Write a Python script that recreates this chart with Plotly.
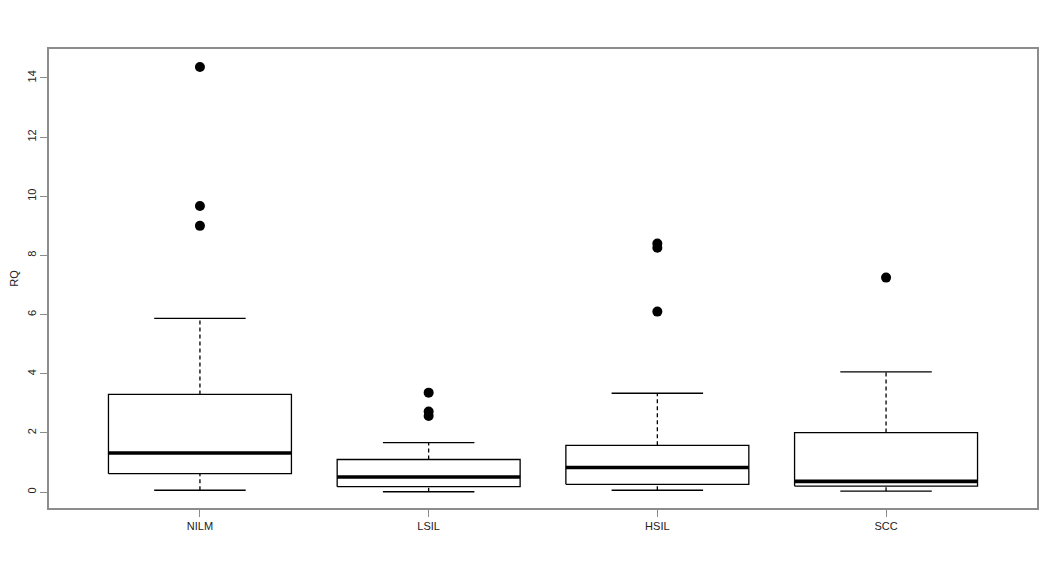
import plotly.graph_objects as go

# Box plot statistics (RQ per cytology group)
groups = ["NILM", "LSIL", "HSIL", "SCC"]
lower_whisker = [0.06, 0.01, 0.06, 0.03]
q1 = [0.62, 0.18, 0.26, 0.20]
median = [1.32, 0.51, 0.83, 0.36]
q3 = [3.30, 1.10, 1.58, 2.01]
upper_whisker = [5.87, 1.67, 3.34, 4.06]
outliers = [[14.37, 9.67, 9.00], [3.36, 2.72, 2.57], [8.40, 8.26, 6.10], [7.25]]

positions = [1, 2, 3, 4]
half_box = 0.4  # box width 0.8, like R's boxplot
half_cap = 0.2  # staple is half the box width

fig = go.Figure()


def add_line(xs, ys, width=1.3, dash="solid"):
    fig.add_trace(
        go.Scatter(
            x=xs, y=ys, mode="lines",
            line=dict(color="black", width=width, dash=dash),
            hoverinfo="skip", showlegend=False,
        )
    )


for i, x in enumerate(positions):
    # whiskers (dashed) and staples
    add_line([x, x], [q3[i], upper_whisker[i]], dash="4px,3px")
    add_line([x, x], [lower_whisker[i], q1[i]], dash="4px,3px")
    add_line([x - half_cap, x + half_cap], [upper_whisker[i]] * 2)
    add_line([x - half_cap, x + half_cap], [lower_whisker[i]] * 2)
    # the box itself
    add_line(
        [x - half_box, x + half_box, x + half_box, x - half_box, x - half_box],
        [q1[i], q1[i], q3[i], q3[i], q1[i]],
    )
    # thick median bar
    add_line([x - half_box, x + half_box], [median[i]] * 2, width=3.6)
    # outlying points
    fig.add_trace(
        go.Scatter(
            x=[x] * len(outliers[i]), y=outliers[i], mode="markers",
            marker=dict(color="black", size=10),
            hoverinfo="skip", showlegend=False,
        )
    )

axis_style = dict(
    showgrid=False, zeroline=False, automargin=False,
    showline=True, mirror=True, linecolor="#8c8c8c", linewidth=1.5,
    ticks="outside", ticklen=7, tickcolor="#8c8c8c", tickwidth=1,
    tickfont=dict(family="Liberation Sans, Arial", size=11, color="#222"),
)

# the page body adds a small offset, so the margins are shifted to compensate
fig.update_layout(
    width=1063, height=569,
    margin=dict(l=41, r=34, t=41, b=69),
    plot_bgcolor="white", paper_bgcolor="white",
    xaxis=dict(
        range=[0.34, 4.66], tickvals=positions, ticktext=groups, **axis_style
    ),
    yaxis=dict(
        range=[-0.54, 14.98], tickvals=list(range(0, 15, 2)), tickangle=-90,
        title=dict(text="RQ", font=dict(family="Liberation Sans, Arial", size=11, color="#222"), standoff=19),
        **axis_style
    ),
)

fig.write_html("out.html")
